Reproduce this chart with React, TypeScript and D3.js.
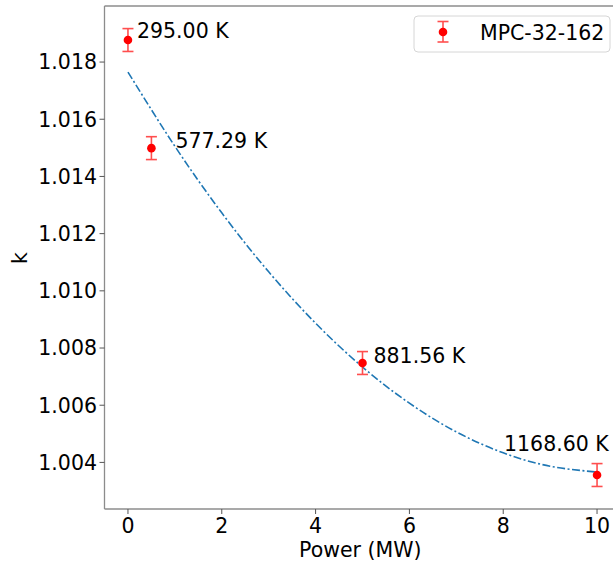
import React from "react";
import * as d3 from "d3";

const powers = [0, 0.5, 5, 10];
const kValues = [1.01877, 1.01499, 1.007476, 1.003559];
const kErrors = [0.0004, 0.0004, 0.0004, 0.0004];
const tempLabels = ["295.00 K", "577.29 K", "881.56 K", "1168.60 K"];

const fitX = [0, 1, 2, 3, 4, 5, 6, 7, 8, 9, 10];
const fitK = [1.01765, 1.015056, 1.012727, 1.010664, 1.008867, 1.007336, 1.00607, 1.005068, 1.004334, 1.003867, 1.003664];

const xTicks = [0, 2, 4, 6, 8, 10];
const yTicks = [1.004, 1.006, 1.008, 1.01, 1.012, 1.014, 1.016, 1.018];

const seriesName = "MPC-32-162";
const xLabel = "Power (MW)";
const yLabel = "k";

const W = 613;
const H = 567;
const L = 104.5, R = 620.5, T = 6, B = 509;
const FONT = "DejaVu Sans, sans-serif";
const FS = 20.5;

export default function App() {
  const x = d3.scaleLinear().domain([-0.5, 10.5]).range([L, R]);
  const y = d3.scaleLinear().domain([1.002371, 1.01996]).range([B, T]);
  const line = d3
    .line<number>()
    .x((_, i) => x(fitX[i]))
    .y((d) => y(d))
    .curve(d3.curveNatural);

  // label offsets (in px) relative to the point, alphabetic baseline
  const labelDx = [9, 24, 11, -93];
  const labelDy = [-2, 0, 0, -24];

  const cap = 5.5;

  return (
    <svg
      width={W}
      height={H}
      style={{ position: "absolute", left: 0, top: 0, background: "#fff" }}
      fontFamily={FONT}
    >
      <defs>
        <clipPath id="plotclip">
          <rect x={L} y={T} width={R - L} height={B - T} />
        </clipPath>
      </defs>
      <rect x={0} y={0} width={W} height={H} fill="#fff" />

      {/* fit curve */}
      <path
        d={line(fitK) || ""}
        fill="none"
        stroke="#1f77b4"
        strokeWidth={1.6}
        strokeDasharray="8,2.5,2,2.5"
        clipPath="url(#plotclip)"
      />

      {/* error bars and points */}
      {powers.map((p, i) => {
        const cx = x(p);
        const y1 = y(kValues[i] + kErrors[i]);
        const y2 = y(kValues[i] - kErrors[i]);
        return (
          <g key={i}>
            <g stroke="#ff3030" strokeWidth={1.6} opacity={0.85}>
              <line x1={cx} x2={cx} y1={y1} y2={y2} />
              <line x1={cx - cap} x2={cx + cap} y1={y1} y2={y1} />
              <line x1={cx - cap} x2={cx + cap} y1={y2} y2={y2} />
            </g>
            <circle cx={cx} cy={y(kValues[i])} r={4.3} fill="red" />
            <text
              x={cx + labelDx[i]}
              y={y(kValues[i]) + labelDy[i]}
              fontSize={FS}
              fill="#000"
            >
              {tempLabels[i]}
            </text>
          </g>
        );
      })}

      {/* spines */}
      <g stroke="#8c8c8c" strokeWidth={1.3} fill="none">
        <line x1={L} x2={L} y1={T} y2={B} />
        <line x1={L} x2={R} y1={B} y2={B} />
        <line x1={L} x2={R} y1={T} y2={T} />
        <line x1={R} x2={R} y1={T} y2={B} />
      </g>

      {/* x ticks */}
      {xTicks.map((t) => (
        <g key={"x" + t}>
          <line x1={x(t)} x2={x(t)} y1={B} y2={B + 5} stroke="#555" strokeWidth={1} />
          <text x={x(t)} y={B + 24} fontSize={FS} textAnchor="middle" fill="#000">
            {t}
          </text>
        </g>
      ))}

      {/* y ticks */}
      {yTicks.map((t) => (
        <g key={"y" + t}>
          <line x1={L - 5} x2={L} y1={y(t)} y2={y(t)} stroke="#555" strokeWidth={1} />
          <text
            x={L - 7.5}
            y={y(t) + 7.4}
            fontSize={FS}
            textAnchor="end"
            fill="#000"
          >
            {d3.format(".3f")(t)}
          </text>
        </g>
      ))}

      {/* axis labels */}
      <text x={(L + 616) / 2} y={557} fontSize={FS} textAnchor="middle" fill="#000">
        {xLabel}
      </text>
      <text
        transform={`translate(26.5,258) rotate(-90)`}
        fontSize={FS}
        textAnchor="middle"
        fill="#000"
      >
        {yLabel}
      </text>

      {/* legend */}
      <g>
        <rect x={414} y={16} width={196} height={36} rx={4} fill="#fff" fillOpacity={0.8} stroke="#d6d6d6" strokeWidth={1} />
        <g stroke="#ff3030" strokeWidth={1.6} opacity={0.85}>
          <line x1={443} x2={443} y1={21.5} y2={42} />
          <line x1={443 - cap} x2={443 + cap} y1={21.5} y2={21.5} />
          <line x1={443 - cap} x2={443 + cap} y1={42} y2={42} />
        </g>
        <circle cx={443} cy={32} r={4.3} fill="red" />
        <text x={480} y={40} fontSize={FS} fill="#000">
          {seriesName}
        </text>
      </g>
    </svg>
  );
}
